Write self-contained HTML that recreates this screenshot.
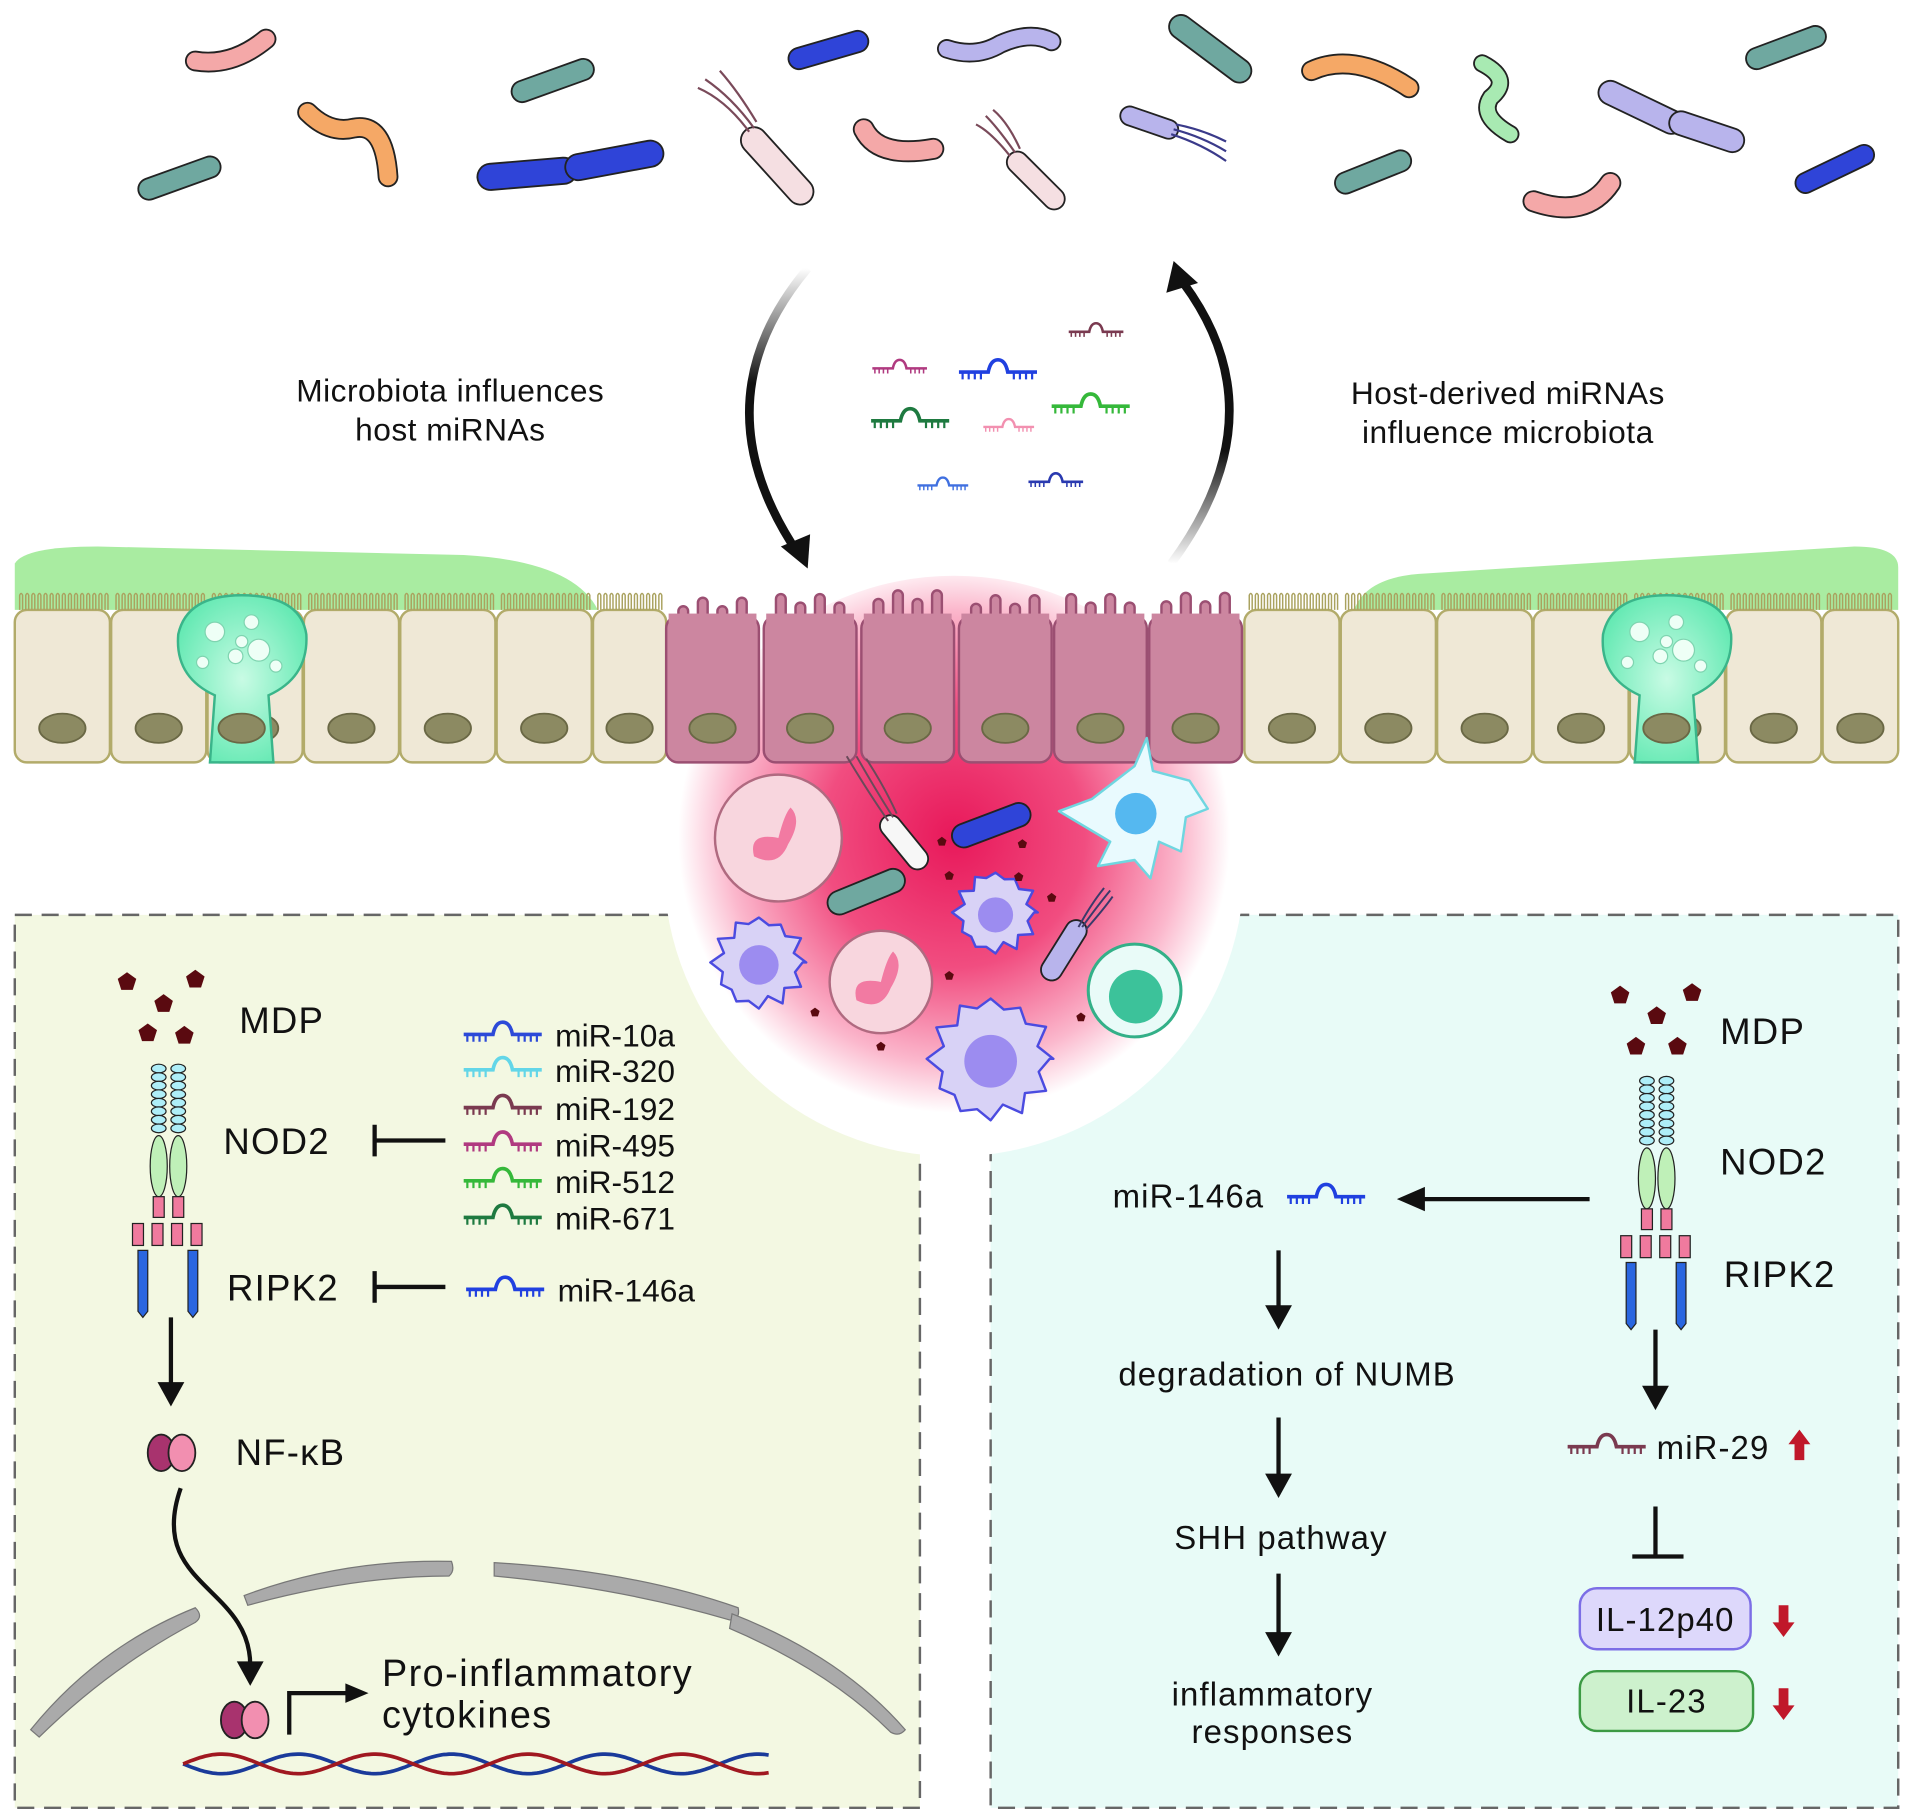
<!DOCTYPE html>
<html><head><meta charset="utf-8"><style>
html,body{margin:0;padding:0;background:#fff;}
svg{display:block;}
text{font-family:"Liberation Sans",Arial,sans-serif;fill:#111;}
.t28{font-size:30px;letter-spacing:1px;}
.t25{font-size:27px;letter-spacing:0.9px;}
.t24{font-size:26px;letter-spacing:0.4px;}
</style></head><body>
<svg id="s" width="1913" height="1820" viewBox="0 0 1568 1492" xmlns="http://www.w3.org/2000/svg">
<defs>
<radialGradient id="inf" cx="0.5" cy="0.45" r="0.5">
<stop offset="0" stop-color="#e8185a"/>
<stop offset="0.45" stop-color="#f14d80"/>
<stop offset="0.78" stop-color="#fbb7cc"/>
<stop offset="0.95" stop-color="#ffffff"/>
</radialGradient>
<radialGradient id="gob" cx="0.5" cy="0.5" r="0.6">
<stop offset="0" stop-color="#c8fbe4"/><stop offset="1" stop-color="#5ee8b0"/>
</radialGradient>
<linearGradient id="arrL" x1="0" y1="0" x2="0" y2="1"><stop offset="0" stop-color="#fff"/><stop offset="0.4" stop-color="#111"/></linearGradient>
<linearGradient id="arrR" x1="0" y1="1" x2="0" y2="0"><stop offset="0" stop-color="#fff"/><stop offset="0.4" stop-color="#111"/></linearGradient>
</defs>

<rect x="12" y="750" width="742" height="732" fill="#f3f8e2" stroke="#666" stroke-width="2" stroke-dasharray="14,8"/>
<rect x="812" y="750" width="744" height="732" fill="#e8fbf7" stroke="#666" stroke-width="2" stroke-dasharray="14,8"/>
<circle cx="782" cy="710" r="238" fill="url(#inf)"/>

<path d="M12,500 L12,462 Q20,448 80,448 L380,455 Q470,460 490,500 Z" fill="#a9eca1"/>
<path d="M1110,500 Q1120,472 1170,470 L1520,448 Q1556,448 1556,465 L1556,500 Z" fill="#a9eca1"/>

<g id="epi"></g>
<g id="bact"></g>
<g id="cells"></g>
<g id="mirs"></g>

<path d="M662,220 Q570,330 655,455" fill="none" stroke="url(#arrL)" stroke-width="7"/>
<path d="M640,448 L662,466 L664,438 Z" fill="#111"/>
<path d="M960,462 Q1050,340 970,232" fill="none" stroke="url(#arrR)" stroke-width="7"/>
<path d="M956,240 L962,214 L982,232 Z" fill="#111"/>

<text class="t24" x="369" y="329" text-anchor="middle">Microbiota influences</text>
<text class="t24" x="369" y="361" text-anchor="middle">host miRNAs</text>
<text class="t24" x="1236" y="331" text-anchor="middle">Host-derived miRNAs</text>
<text class="t24" x="1236" y="363" text-anchor="middle">influence microbiota</text>

<text class="t28" x="196" y="847">MDP</text>
<text class="t28" x="183" y="946">NOD2</text>
<text class="t28" x="186" y="1066">RIPK2</text>
<text class="t28" x="193" y="1201">NF-κB</text>
<g font-size="26">
<text x="455" y="858">miR-10a</text>
<text x="455" y="887">miR-320</text>
<text x="455" y="918">miR-192</text>
<text x="455" y="948">miR-495</text>
<text x="455" y="978">miR-512</text>
<text x="455" y="1008">miR-671</text>
<text x="457" y="1067">miR-146a</text>
</g>
<text x="313" y="1382" font-size="31" letter-spacing="1.2">Pro-inflammatory</text>
<text x="313" y="1416" font-size="31" letter-spacing="1.2">cytokines</text>
<g stroke="#111" stroke-width="3.5" fill="none">
<path d="M307,922V948M307,935H365"/>
<path d="M307,1042V1068M307,1055H365"/>
<path d="M140,1080V1135"/>
<path d="M148,1220 C120,1300 205,1300 205,1365"/>
<path d="M237,1422V1388H285"/>
<path d="M1303,983H1165"/>
<path d="M1048,1025V1072M1048,1162V1210M1048,1290V1340M1357,1090V1138"/>
<path d="M1357,1235V1276M1338,1276H1380"/>
</g>
<g fill="#111">
<path d="M129,1133H151L140,1153Z"/>
<path d="M194,1362H216L205,1382Z"/>
<path d="M283,1380V1396L302,1388Z"/>
<path d="M1168,973V993L1145,983Z"/>
<path d="M1037,1070H1059L1048,1090Z"/>
<path d="M1037,1208H1059L1048,1228Z"/>
<path d="M1037,1338H1059L1048,1358Z"/>
<path d="M1346,1136H1368L1357,1156Z"/>
</g>
<g fill="#aaa" stroke="#777" stroke-width="1">
<path d="M25,1418 Q80,1350 160,1318 Q167,1325 160,1330 Q90,1367 32,1424Z"/>
<path d="M200,1308 Q280,1278 370,1280 Q373,1288 368,1292 Q290,1292 203,1316Z"/>
<path d="M405,1281 Q520,1288 605,1318 Q607,1328 598,1328 Q510,1302 405,1292Z"/>
<path d="M600,1323 Q690,1358 742,1418 Q737,1424 730,1420 Q680,1370 598,1335Z"/>
</g>
<g id="dna"></g>

<text class="t28" x="1410" y="856">MDP</text>
<text class="t28" x="1410" y="963">NOD2</text>
<text class="t28" x="1413" y="1055">RIPK2</text>
<text class="t25" x="912" y="990">miR-146a</text>
<text class="t25" x="1055" y="1136" text-anchor="middle">degradation of NUMB</text>
<text class="t25" x="1050" y="1270" text-anchor="middle">SHH pathway</text>
<text class="t25" x="1043" y="1398" text-anchor="middle">inflammatory</text>
<text class="t25" x="1043" y="1429" text-anchor="middle">responses</text>
<text class="t25" x="1358" y="1196">miR-29</text>
<rect x="1295" y="1302" width="140" height="50" rx="14" fill="#ddd8fb" stroke="#7c6ee6" stroke-width="2"/>
<text class="t25" x="1365" y="1337" text-anchor="middle">IL-12p40</text>
<rect x="1295" y="1370" width="142" height="49" rx="14" fill="#cdf1cd" stroke="#3c9a44" stroke-width="2"/>
<text class="t25" x="1366" y="1404" text-anchor="middle">IL-23</text>
<g fill="#c0182a">
<path d="M1471,1197V1184H1466L1475,1172L1484,1184H1479V1197Z"/>
<path d="M1458,1316V1330H1453L1462,1342L1471,1330H1466V1316Z"/>
<path d="M1458,1384V1398H1453L1462,1410L1471,1398H1466V1384Z"/>
</g>
</svg>
<script>
const NS="http://www.w3.org/2000/svg";
function el(p,tag,a){const e=document.createElementNS(NS,tag);for(const k in a)e.setAttribute(k,a[k]);p.appendChild(e);return e;}
const $=id=>document.getElementById(id);
const epi=$("epi");
const normalX=[12,91,170,249,328,407,486,1020,1099,1178,1257,1336,1415,1494];
const pinkX=[546,626,706,786,864,942];
let bb="";
normalX.forEach((x,i)=>{
 const w=(x===486)?60:(x===1494?62:78);
 el(epi,"rect",{x:x,y:500,width:w,height:125,rx:10,fill:"#efe8d6",stroke:"#b2ab6a","stroke-width":2});
 for(let t=x+4;t<x+w-3;t+=5) bb+=`M${t},500V488q1.2,-3 2.4,0V500`;
 el(epi,"ellipse",{cx:x+w/2,cy:597,rx:19,ry:12,fill:"#8c8a62",stroke:"#6a6845","stroke-width":1.5});
});
el(epi,"path",{d:bb,fill:"none",stroke:"#aaa25f","stroke-width":1.2});
pinkX.forEach(x=>{
 const w=76;
 el(epi,"rect",{x:x,y:505,width:w,height:120,rx:10,fill:"#cc86a0",stroke:"#9b4f72","stroke-width":2});
 [10,26,42,58].forEach((o,j)=>{const h=8+((j*7+x)%14);el(epi,"rect",{x:x+o,y:505-h,width:8,height:h+6,rx:4,fill:"#cc86a0",stroke:"#9b4f72","stroke-width":2});});
 el(epi,"rect",{x:x+2,y:503,width:w-4,height:10,fill:"#cc86a0"});
 el(epi,"ellipse",{cx:x+w/2,cy:597,rx:19,ry:12,fill:"#8c8a62",stroke:"#6a6845","stroke-width":1.5});
});
[[198],[1366]].forEach(([c])=>{
 el(epi,"path",{d:`M${c-26},625 L${c-22},570 Q${c-55},555 ${c-52},520 Q${c-45},488 ${c},488 Q${c+48},488 ${c+53},520 Q${c+55},555 ${c+22},570 L${c+26},625 Z`,fill:"url(#gob)",stroke:"#3ab58a","stroke-width":2});
 [[-22,-10,8],[8,-18,6],[14,5,9],[-5,10,6],[-32,15,5],[28,18,5],[0,-2,5]].forEach(([dx,dy,r])=>el(epi,"circle",{cx:c+dx,cy:528+dy,r:r,fill:"#eefff6",stroke:"#7fd4b0","stroke-width":1}));
 el(epi,"ellipse",{cx:c,cy:597,rx:19,ry:12,fill:"#8c8a62",stroke:"#6a6845","stroke-width":1.5});
});
const bact=$("bact");
function rod(d,c,w){el(bact,"path",{d:d,fill:"none",stroke:"#222","stroke-width":w+3,"stroke-linecap":"round"});el(bact,"path",{d:d,fill:"none",stroke:c,"stroke-width":w,"stroke-linecap":"round"});}
const T="#6fa8a0",P="#f4a8a8",O="#f5a866",B="#2f44d8",L="#b8b4ec",G="#a8eab2",W="#f5dfe2";
rod("M160,50Q190,55 218,32",P,14);rod("M122,155L172,137",T,16);rod("M252,92Q270,110 290,105Q315,100 318,145",O,14);
rod("M428,75L478,57",T,16);rod("M402,145L462,140",B,20);rod("M474,137L533,126",B,20);rod("M655,48L703,34",B,16);
rod("M776,40Q800,48 820,36Q845,25 862,34",L,13);rod("M968,22L1016,58",T,18);rod("M708,106Q720,130 765,122",P,15);
rod("M618,115L656,157",W,20);rod("M834,133L864,163",W,16);rod("M926,95L958,106",L,14);
rod("M1075,58Q1110,42 1155,72",O,14);rod("M1215,52Q1240,65 1222,80Q1212,95 1238,110",G,12);rod("M1103,150L1148,132",T,16);
rod("M1440,48L1488,30",T,16);rod("M1320,76L1370,100",L,18);rod("M1378,101L1420,115",L,18);rod("M1257,165Q1300,180 1320,150",P,15);rod("M1480,150L1528,127",B,15);
el(bact,"path",{d:"M618,105Q600,80 578,65M614,108Q595,82 572,72M620,100Q605,75 590,58M832,125Q818,105 808,95M828,128Q812,108 800,102M836,122Q826,100 814,90",fill:"none",stroke:"#7a4a5a","stroke-width":1.8});
el(bact,"path",{d:"M960,110Q985,118 1005,132M962,106Q985,112 1005,124M964,102Q985,106 1005,116",fill:"none",stroke:"#3a3a8a","stroke-width":1.8});
const cl=$("cells");
function amoeba(cx,cy,r,n){let d="";for(let i=0;i<=n*2;i++){const a=i/(n*2)*Math.PI*2;const rr=r*(i%2?0.85:1.05)+((i*37)%5-2);d+=(i?"L":"M")+(cx+rr*Math.cos(a)).toFixed(1)+","+(cy+rr*Math.sin(a)).toFixed(1);}return d+"Z";}
function mac(cx,cy,r){el(cl,"path",{d:amoeba(cx,cy,r,12),fill:"#d8d2f6",stroke:"#4b4be0","stroke-width":2,"stroke-linejoin":"round"});el(cl,"circle",{cx:cx,cy:cy+2,r:r*0.45,fill:"#9c8cf0"});}
function neut(cx,cy,r){el(cl,"circle",{cx:cx,cy:cy,r:r,fill:"#f8d6de",stroke:"#b06a80","stroke-width":2});el(cl,"path",{d:`M${cx-20},${cy+15}Q${cx-25},${cy-5} ${cx},${cy}Q${cx+5},${cy-20} ${cx+10},${cy-25}Q${cx+20},${cy-15} ${cx+8},${cy+5}Q${cx},${cy+25} ${cx-20},${cy+15}Z`,fill:"#f27aa2"});}
neut(638,687,52);neut(722,805,42);mac(622,789,36);mac(816,748,32);mac(812,868,48);
el(cl,"path",{d:"M930,628 L940,605 L945,632 L975,640 L990,663 L972,670 L968,698 L950,690 L943,720 L930,705 L900,710 L910,690 L868,665 L895,655 Z",fill:"#e9fafe",stroke:"#6fd6e0","stroke-width":2,"stroke-linejoin":"round"});
el(cl,"circle",{cx:930,cy:665,r:22,fill:"#e9fafe"});el(cl,"circle",{cx:931,cy:667,r:17,fill:"#55b8f0"});
el(cl,"circle",{cx:930,cy:812,r:38,fill:"#e9fbf8",stroke:"#33b088","stroke-width":2.5});el(cl,"circle",{cx:931,cy:817,r:22,fill:"#3cc29a"});
function crod(d,c,w){el(cl,"path",{d:d,fill:"none",stroke:"#222","stroke-width":w+3,"stroke-linecap":"round"});el(cl,"path",{d:d,fill:"none",stroke:c,"stroke-width":w,"stroke-linecap":"round"});}
crod("M730,677L752,704","#f7f7f7",16);crod("M790,685L835,668",B,18);crod("M688,740L732,722",T,18);crod("M862,795L882,763",L,16);
el(cl,"path",{d:"M728,673Q712,650 694,620M732,670Q718,648 702,620M735,667Q725,645 710,622",fill:"none",stroke:"#6a4a5a","stroke-width":1.6});
el(cl,"path",{d:"M884,760Q895,740 905,728M887,760Q900,742 910,730M890,762Q905,745 912,735",fill:"none",stroke:"#3a3a6a","stroke-width":1.6});
function pent(cx,cy,r,p){let d="";for(let i=0;i<5;i++){const a=-Math.PI/2+i*2*Math.PI/5;d+=(i?"L":"M")+(cx+r*Math.cos(a)).toFixed(1)+","+(cy+r*Math.sin(a)).toFixed(1);}el(p||cl,"path",{d:d+"Z",fill:"#5a0a10"});}
[[772,690],[778,718],[668,830],[722,858],[778,800],[862,736],[886,834],[835,719],[838,692]].forEach(q=>pent(q[0],q[1],4));
[[104,805],[160,803],[134,823],[121,847],[151,849],[1328,816],[1387,814],[1358,833],[1341,858],[1375,858]].forEach(q=>pent(q[0],q[1],8,$("mirs")));
const mr=$("mirs");
function mir(x,y,c,s){const g=el(mr,"g",{transform:`translate(${x},${y}) scale(${s})`});
 el(g,"path",{d:"M0,0H24Q26,-10 32,-10Q38,-10 40,0H64",fill:"none",stroke:c,"stroke-width":3});
 let t="";[3,8,13,18,45,50,55,60].forEach(v=>t+=`M${v},0v6`);el(g,"path",{d:t,stroke:c,"stroke-width":1.8});}
[["#2c4ad8",848],["#63d6e8",877],["#7a3a50",908],["#b03a80",938],["#35b83a",968],["#1e7a40",998]].forEach(a=>mir(380,a[1],a[0],1));
mir(382,1057,"#2040e0",1);mir(1055,981,"#2040e0",1);mir(1285,1186,"#7a3a50",1);
mir(715,302,"#b03a80",0.7);mir(786,305,"#2040e0",1);mir(876,272,"#7a3a50",0.7);mir(862,333,"#35b83a",1);
mir(714,345,"#1e7a40",1);mir(806,350,"#f290b0",0.65);mir(752,398,"#4070e0",0.65);mir(843,395,"#2a3ab0",0.7);
function rec(x0,y0,p){const g=el(p,"g",{});
 for(let c of [0,16]) for(let i=0;i<8;i++) el(g,"ellipse",{cx:x0+c,cy:y0+i*7,rx:6,ry:3.6,fill:"#aeeef8",stroke:"#222","stroke-width":1});
 for(let c of [0,16]){el(g,"ellipse",{cx:x0+c,cy:y0+80,rx:7,ry:25,fill:"#bff0b8",stroke:"#222","stroke-width":1});el(g,"rect",{x:x0+c-4.5,y:y0+105,width:9,height:17,fill:"#f07a9e",stroke:"#222","stroke-width":1});}
 [-17,-1,15,31].forEach(o=>el(g,"rect",{x:x0+o-4.5,y:y0+127,width:9,height:18,fill:"#f07a9e",stroke:"#222","stroke-width":1}));
 [-13,28].forEach(o=>el(g,"path",{d:`M${x0+o-4},${y0+149}h8v50l-4,5l-4,-5z`,fill:"#2a66e0",stroke:"#222","stroke-width":1}));
}
rec(130,876,mr);rec(1350,886,mr);
[[132,1191],[192,1410]].forEach(([x,y])=>{el(mr,"ellipse",{cx:x,cy:y,rx:11,ry:15,fill:"#a8336e",stroke:"#222","stroke-width":1.5});el(mr,"ellipse",{cx:x+17,cy:y,rx:11,ry:15,fill:"#f28fb0",stroke:"#222","stroke-width":1.5});});
const dna=$("dna");let d1="",d2="";for(let x=150;x<=630;x+=2){const y1=1446+8*Math.sin((x-150)/20);const y2=1446-8*Math.sin((x-150)/20);d1+=(x==150?"M":"L")+x+","+y1.toFixed(1);d2+=(x==150?"M":"L")+x+","+y2.toFixed(1);}
el(dna,"path",{d:d1,fill:"none",stroke:"#1a3a9a","stroke-width":3});el(dna,"path",{d:d2,fill:"none",stroke:"#a01820","stroke-width":3});
</script>
</body></html>
